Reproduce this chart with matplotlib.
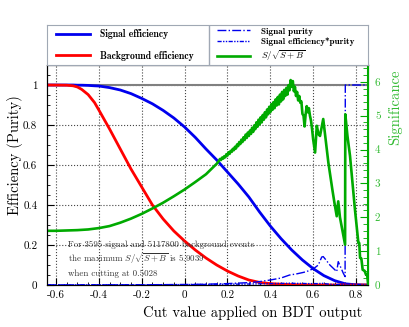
import matplotlib
matplotlib.use("Agg")
import matplotlib.pyplot as plt
from matplotlib.ticker import MultipleLocator, FuncFormatter

plt.rcParams["font.family"] = "cmr10"
plt.rcParams["mathtext.fontset"] = "cm"
plt.rcParams["axes.unicode_minus"] = False

# ── Data ─────────────────────────────────────────────────────────────────────
cut_eff = [-0.642, -0.55, -0.52, -0.5, -0.48, -0.45, -0.42, -0.4, -0.35, -0.3,
           -0.25, -0.2, -0.15, -0.1, -0.05, 0.0, 0.05, 0.1, 0.15, 0.2, 0.25,
           0.3, 0.35, 0.4, 0.45, 0.5, 0.55, 0.6, 0.65, 0.7, 0.75, 0.8, 0.856]
sig_eff = [1.0, 1.0, 1.0, 0.999, 0.999, 0.998, 0.996, 0.995, 0.987, 0.975,
           0.957, 0.933, 0.906, 0.873, 0.835, 0.79, 0.738, 0.68, 0.625, 0.565,
           0.505, 0.44, 0.365, 0.295, 0.232, 0.175, 0.125, 0.082, 0.047, 0.022,
           0.006, 0.001, 0.0]
bkg_eff = [1.0, 0.999, 0.996, 0.99, 0.978, 0.952, 0.912, 0.875, 0.78, 0.68,
           0.58, 0.49, 0.40, 0.33, 0.27, 0.22, 0.175, 0.135, 0.10, 0.07,
           0.045, 0.025, 0.013, 0.007, 0.004, 0.002, 0.001, 0.0005, 0.0003,
           0.0001, 0.0, 0.0, 0.0]

cut_pur = [-0.642, -0.4, -0.2, 0.0, 0.1, 0.2, 0.3, 0.35, 0.4, 0.45, 0.49,
           0.52, 0.55, 0.57, 0.585, 0.6, 0.624, 0.64, 0.647, 0.66, 0.678,
           0.71, 0.717, 0.73, 0.741, 0.749, 0.75, 0.856]
purity = [0.0007, 0.0008, 0.0012, 0.0025, 0.004, 0.007, 0.012, 0.017, 0.025,
          0.035, 0.05, 0.055, 0.062, 0.067, 0.075, 0.08, 0.10, 0.14, 0.142,
          0.125, 0.10, 0.067, 0.117, 0.085, 0.058, 0.042, 1.0, 1.0]
eff_pur = [0.0007, 0.0008, 0.0011, 0.002, 0.003, 0.004, 0.005, 0.006, 0.007,
           0.008, 0.009, 0.008, 0.008, 0.007, 0.007, 0.007, 0.007, 0.008,
           0.008, 0.006, 0.004, 0.002, 0.003, 0.002, 0.001, 0.001, 0.006, 0.0]

cut_sig = [-0.642, -0.6, -0.55, -0.5, -0.45, -0.4, -0.35, -0.3, -0.25, -0.2,
           -0.15, -0.1, -0.05, 0.0, 0.05, 0.1, 0.15,
           0.160, 0.165, 0.170, 0.175, 0.180, 0.185, 0.190, 0.195, 0.200,
           0.205, 0.210, 0.215, 0.220, 0.225, 0.230, 0.235, 0.240, 0.245,
           0.250, 0.255, 0.260, 0.265, 0.270, 0.275, 0.280, 0.285, 0.290,
           0.295, 0.300, 0.305, 0.310, 0.315, 0.320, 0.325, 0.330, 0.335,
           0.340, 0.345, 0.350, 0.355, 0.360, 0.365, 0.370, 0.375, 0.380,
           0.385, 0.390, 0.395, 0.400, 0.405, 0.410, 0.415, 0.420, 0.425,
           0.430, 0.435, 0.440, 0.445, 0.450, 0.455, 0.460, 0.465, 0.470,
           0.475, 0.480, 0.485, 0.490, 0.495, 0.500, 0.505, 0.510, 0.515,
           0.520, 0.525, 0.530, 0.535, 0.540, 0.545, 0.550, 0.555, 0.560,
           0.565, 0.570, 0.575, 0.580, 0.585, 0.590, 0.595, 0.600,
           0.609, 0.617, 0.625, 0.632, 0.647, 0.66, 0.671, 0.69, 0.70, 0.71,
           0.717, 0.725, 0.733, 0.749, 0.750, 0.76, 0.772, 0.785, 0.795,
           0.805, 0.811, 0.815, 0.819, 0.825, 0.831, 0.84, 0.847, 0.852, 0.856]
signif = [1.60, 1.60, 1.61, 1.62, 1.64, 1.68, 1.74, 1.84, 1.96, 2.10,
          2.26, 2.43, 2.62, 2.82, 3.04, 3.27, 3.58,
          3.66, 3.72, 3.69, 3.76, 3.73, 3.80, 3.77, 3.86, 3.82,
          3.92, 3.87, 3.96, 3.93, 4.02, 3.98, 4.08, 4.03, 4.15,
          4.10, 4.22, 4.16, 4.29, 4.22, 4.36, 4.28, 4.44, 4.34,
          4.50, 4.40, 4.56, 4.46, 4.64, 4.52, 4.71, 4.60, 4.80,
          4.67, 4.88, 4.74, 4.95, 4.80, 5.02, 4.88, 5.10, 4.95,
          5.18, 5.04, 5.26, 5.10, 5.34, 5.17, 5.40, 5.22, 5.48,
          5.30, 5.55, 5.33, 5.62, 5.42, 5.70, 5.48, 5.76, 5.58,
          5.82, 5.62, 5.90, 5.75, 6.05, 5.85, 6.02, 5.72, 5.85,
          5.58, 5.70, 5.45, 5.58, 5.38, 5.42, 5.05, 5.00, 4.68,
          5.05, 5.28, 5.10, 5.22, 5.00, 4.85, 4.60, 4.30,
          3.91, 4.70, 4.45, 4.40, 4.90, 4.20, 3.61, 2.80, 2.40, 2.03,
          2.47, 2.00, 1.73, 1.19, 5.04, 4.40, 3.81, 2.90, 2.23,
          1.60, 1.24, 1.24, 0.80, 0.78, 0.45, 0.42, 0.30, 0.30, 0.06]

n_sig, n_bkg = 3595, 5117800
max_signif, best_cut = 5.9039, 0.5028

GREEN = "#00aa00"
GREEN_TXT = "#33bb33"

# ── Figure ───────────────────────────────────────────────────────────────────
fig = plt.figure(figsize=(4.09, 3.27), dpi=100)
ax = fig.add_axes([0.1149, 0.1284, 0.7849, 0.6728])

ax.axhline(1.0, color="#808080", lw=1.5, zorder=1)
l_sig, = ax.plot(cut_eff, sig_eff, color="#0000ee", lw=2, zorder=3,
                 label="Signal efficiency")
l_bkg, = ax.plot(cut_eff, bkg_eff, color="#ff0000", lw=2, zorder=3,
                 label="Background efficiency")
l_pur, = ax.plot(cut_pur, purity, color="#0000ee", lw=1, ls="-.", zorder=3,
                 label="Signal purity")
l_ep, = ax.plot(cut_pur, eff_pur, color="#0000ee", lw=1,
                ls=(0, (3, 1, 1, 1, 1, 1)), zorder=3,
                label="Signal efficiency*purity")

ax.set_xlim(-0.642, 0.856)
ax.set_ylim(0, 1.1)
ax.xaxis.set_major_locator(MultipleLocator(0.2))
ax.xaxis.set_minor_locator(MultipleLocator(0.05))
ax.yaxis.set_major_locator(MultipleLocator(0.2))
ax.yaxis.set_minor_locator(MultipleLocator(0.05))
fmt = FuncFormatter(lambda v, p: "%g" % round(v, 3))
ax.xaxis.set_major_formatter(fmt)
ax.yaxis.set_major_formatter(fmt)
ax.tick_params(which="both", direction="in", labelsize=8, top=False, right=False)
ax.tick_params(axis="y", which="major", length=5, pad=7)
ax.tick_params(axis="y", which="minor", length=2.5)
ax.tick_params(axis="x", which="major", length=5, pad=4)
ax.tick_params(axis="x", which="minor", length=2.5)
ax.grid(True, which="major", ls=":", color="#444444", lw=0.8)
ax.set_axisbelow(True)

# significance on the right axis
ax2 = ax.twinx()
l_s, = ax2.plot(cut_sig, signif, color=GREEN, lw=1.9, label=r"$S/\sqrt{S+B}$")
ax2.set_ylim(0, max_signif * 1.1)
ax2.yaxis.set_major_locator(MultipleLocator(1))
ax2.yaxis.set_minor_locator(MultipleLocator(0.2))
ax2.yaxis.set_major_formatter(fmt)
ax2.tick_params(which="both", direction="in", colors=GREEN, labelcolor=GREEN_TXT,
                labelsize=8, pad=5)
ax2.tick_params(which="major", length=6)
ax2.tick_params(which="minor", length=3.5)
ax2.spines["right"].set_color(GREEN)
ax2.spines["right"].set_linewidth(1.5)

ax.text(0.065, 0.185, f"For {n_sig} signal and {n_bkg} background events",
        transform=ax.transAxes, fontsize=6.4, color="#333333", va="center")
ax.text(0.065, 0.118, r"the maximum $S/\sqrt{S+B}$ is " + f"{max_signif:.4f}",
        transform=ax.transAxes, fontsize=6.4, color="#333333", va="center")
ax.text(0.065, 0.053, f"when cutting at {best_cut:.4f}",
        transform=ax.transAxes, fontsize=6.4, color="#333333", va="center")

# axis titles
fig.text(15 / 409, 1 - 95 / 327, "Efficiency (Purity)", rotation=90,
         ha="center", va="top", fontsize=10.5)
fig.text(362 / 409, 1 - 313 / 327, "Cut value applied on BDT output",
         ha="right", va="center", fontsize=10.5)
fig.text(395 / 409, 1 - 70 / 327, "Significance", rotation=90,
         ha="center", va="top", fontsize=10.5, color=GREEN_TXT)

# ── Legend box above the plot ────────────────────────────────────────────────
lax = fig.add_axes([0.1149, 0.8012, 0.7849, 0.1223])
lax.set_xticks([])
lax.set_yticks([])
for s in lax.spines.values():
    s.set_color("#a0a8b4")
lax.axvline(0.505, color="#a0a8b4", lw=1)
leg1 = lax.legend(handles=[l_sig, l_bkg], loc="center left",
                  bbox_to_anchor=(0.0, 0.5), frameon=False, handlelength=3.5,
                  handletextpad=1.1, labelspacing=1.2,
                  prop={"family": "cmb10", "size": 7})
lax.add_artist(leg1)
lax.legend(handles=[l_pur, l_ep, l_s], loc="center left",
           bbox_to_anchor=(0.505, 0.5), frameon=False, handlelength=3.6,
           handletextpad=1.2, labelspacing=0.22,
           prop={"family": "cmb10", "size": 6.5})

fig.savefig("out.png", dpi=100)
